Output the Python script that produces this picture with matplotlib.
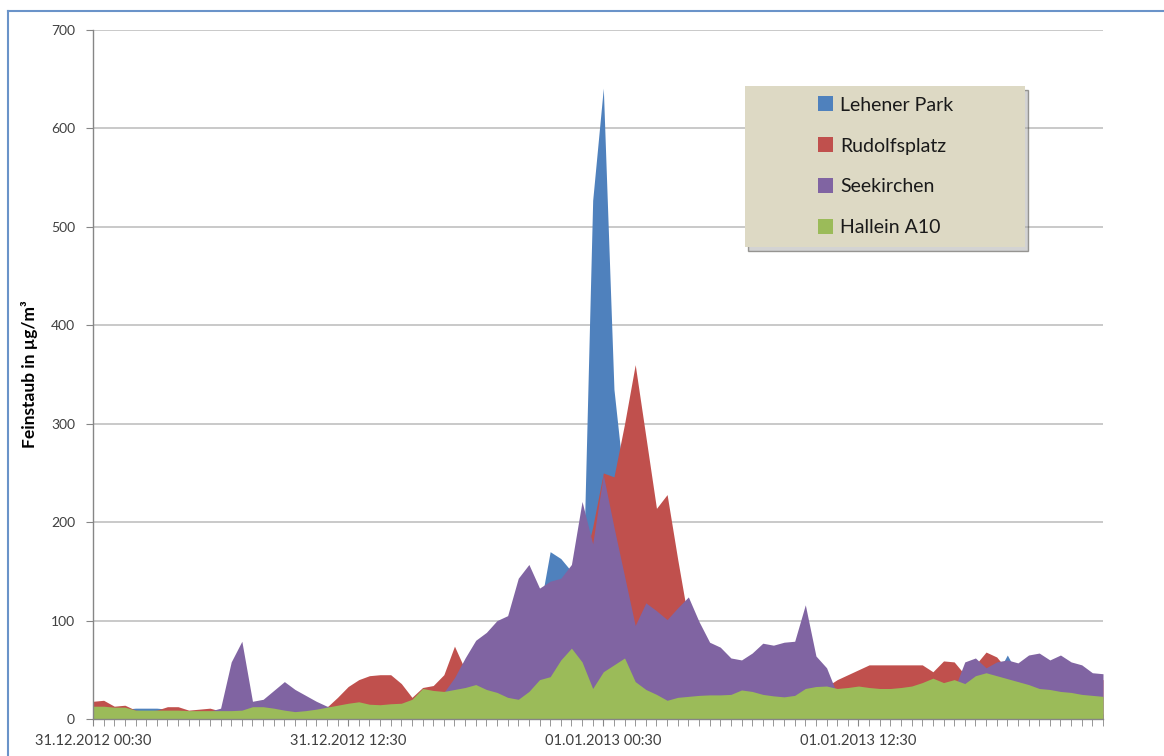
import numpy as np
import pandas as pd
import matplotlib
matplotlib.use("Agg")
import matplotlib.pyplot as plt
import matplotlib.patches as patches
from matplotlib.lines import Line2D
from matplotlib.ticker import FixedLocator, MultipleLocator

# Feinstaub, Halbstundenwerte 31.12.2012 00:30 bis 02.01.2013 00:00
START = "2012-12-31 00:30"
N_POINTS = 96

stations = ["Lehener Park", "Rudolfsplatz", "Seekirchen", "Hallein A10"]
colors = ["#4f81bd", "#c0504d", "#8064a2", "#9bbb59"]

lehener_park = [
    5, 5, 5, 10, 11, 11, 11, 10, 5, 5,
    5, 5, 5, 5, 5, 5, 5, 5, 5, 5,
    5, 5, 5, 5, 5, 5, 5, 5, 5, 5,
    5, 5, 5, 5, 5, 5, 5, 5, 5, 5,
    5, 100, 110, 170, 163, 150, 100, 527, 641, 335,
    235, 120, 5, 5, 5, 5, 5, 5, 5, 5,
    5, 5, 5, 5, 5, 5, 5, 5, 5, 5,
    5, 5, 5, 5, 5, 5, 5, 5, 5, 5,
    5, 5, 5, 5, 5, 45, 65, 45, 5, 5,
    5, 5, 5, 5, 5, 5,
]

rudolfsplatz = [
    18, 19, 13, 14, 9, 8, 9, 12.5, 12.5, 9,
    10, 11, 8, 7, 7, 7, 7, 7, 7, 7,
    7, 7, 12, 22, 33, 40, 44, 45, 45, 36,
    22, 32, 34, 45, 74, 50, 45, 45, 45, 45,
    45, 45, 45, 45, 45, 45, 150, 195, 250, 246,
    300, 360, 287, 214, 228, 162, 100, 60, 40, 40,
    40, 40, 40, 40, 40, 40, 40, 40, 40, 33,
    40, 45, 50, 55, 55, 55, 55, 55, 55, 48,
    59, 58, 45, 55, 68, 63, 50, 40, 40, 40,
    40, 40, 40, 40, 40, 40,
]

seekirchen = [
    7, 7, 7, 7, 7, 7, 7, 7, 7, 7,
    7, 8, 11, 58, 79, 18, 20, 29, 38, 30,
    24, 18, 13, 12, 10, 10, 10, 10, 10, 10,
    10, 10, 10, 27, 42, 62, 80, 88, 100, 105,
    143, 157, 133, 140, 143, 157, 221, 178, 248, 195,
    145, 95, 118, 110, 101, 113, 124, 99, 78, 73,
    62, 60, 67, 77, 75, 78, 79, 116, 64, 52,
    25, 25, 25, 25, 25, 25, 25, 25, 25, 25,
    25, 30, 58, 62, 52, 58, 60, 57, 65, 67,
    60, 65, 58, 55, 47, 46,
]

hallein_a10 = [
    13, 13, 12, 12, 9, 9, 9, 9, 9, 8.5,
    8.5, 8.5, 8.5, 8.5, 9, 12.5, 12.5, 11, 9, 7.5,
    8.5, 10, 12, 14, 16, 17.5, 15, 14.5, 15.5, 16,
    20, 31, 29, 28, 30, 32, 35, 30, 27, 22,
    20, 28, 40, 43, 60, 72, 58, 31, 48, 55,
    62, 38, 30, 25, 19, 22, 23, 24, 24.5, 24.5,
    25, 29.5, 28, 25, 23.5, 22.5, 24, 31, 33, 33.5,
    31, 32, 33.5, 32, 31, 31, 32, 33.5, 37, 41.5,
    37, 40, 36, 44, 47, 44, 41, 38, 35, 31,
    30, 28, 27, 25, 24, 23,
]

GRID = "#c0c0c0"
AXIS = "#868686"
TEXT = "#404040"


def main():
    plt.rcParams["font.family"] = ["Lato", "DejaVu Sans"]

    times = pd.date_range(START, periods=N_POINTS, freq="30min")
    x = np.arange(N_POINTS)
    series = [lehener_park, rudolfsplatz, seekirchen, hallein_a10]

    fig = plt.figure(figsize=(11.64, 7.56), dpi=100)
    ax = fig.add_axes([93 / 1164, 37 / 756, 1010 / 1164, 689 / 756])

    # Flächen übereinander, nicht gestapelt (hinterste Station zuerst)
    for vals, col, name in zip(series, colors, stations):
        ax.fill_between(x, 0, vals, color=col, linewidth=0, label=name, zorder=2)

    ax.set_xlim(0, N_POINTS - 1)
    ax.set_ylim(0, 700)
    ax.yaxis.set_major_locator(MultipleLocator(100))
    ax.grid(axis="y", color=GRID, linewidth=1.2, zorder=0)
    ax.set_axisbelow(True)

    major = list(range(0, N_POINTS, 24))
    ax.xaxis.set_major_locator(FixedLocator(major))
    ax.xaxis.set_minor_locator(FixedLocator(x))
    ax.set_xticklabels([times[i].strftime("%d.%m.%Y %H:%M") for i in major])

    for side in ["top", "right"]:
        ax.spines[side].set_visible(False)
    for side in ["left", "bottom"]:
        ax.spines[side].set_color(AXIS)
        ax.spines[side].set_linewidth(1.0)
        ax.spines[side].set_zorder(3)

    ax.tick_params(axis="y", which="major", length=5, color=AXIS, labelsize=10,
                   labelcolor=TEXT, pad=8)
    ax.tick_params(axis="x", which="both", length=5, color=AXIS, direction="out")
    ax.tick_params(axis="x", which="major", labelsize=10.5, labelcolor=TEXT, pad=6)

    ax.set_ylabel("Feinstaub in µg/m³", fontsize=12.5, fontweight="bold", color="black")
    ax.yaxis.set_label_coords(-0.054, 0.5)

    # Legendenkasten mit Schatten
    box = patches.Rectangle((0.646, 0.685), 0.277, 0.234, transform=ax.transAxes,
                            facecolor="#ddd9c4", edgecolor="none", zorder=5)
    shadow = patches.Shadow(box, 0.002, -0.004, zorder=4)
    shadow.set_facecolor("#a8a8a8")
    shadow.set_alpha(0.5)
    ax.add_patch(shadow)
    ax.add_patch(box)

    handles = [patches.Patch(facecolor=c, edgecolor="none") for c in colors]
    leg = ax.legend(handles, stations, loc="center",
                    bbox_to_anchor=(0.646 + 0.277 / 2, 0.685 + 0.234 / 2),
                    frameon=False, fontsize=14, handlelength=0.8, handleheight=0.8,
                    handletextpad=0.35, labelspacing=1.22)
    leg.set_zorder(6)
    for t in leg.get_texts():
        t.set_color("#1a1a1a")

    # Rahmen der Grafik
    fig.add_artist(Line2D([8 / 1164, 8 / 1164], [0, 1 - 11 / 756],
                          transform=fig.transFigure, color="#6a93c9", linewidth=1.5))
    fig.add_artist(Line2D([8 / 1164, 1], [1 - 11 / 756, 1 - 11 / 756],
                          transform=fig.transFigure, color="#6a93c9", linewidth=1.5))

    fig.savefig("out.png", dpi=100, facecolor="white")


if __name__ == "__main__":
    main()
